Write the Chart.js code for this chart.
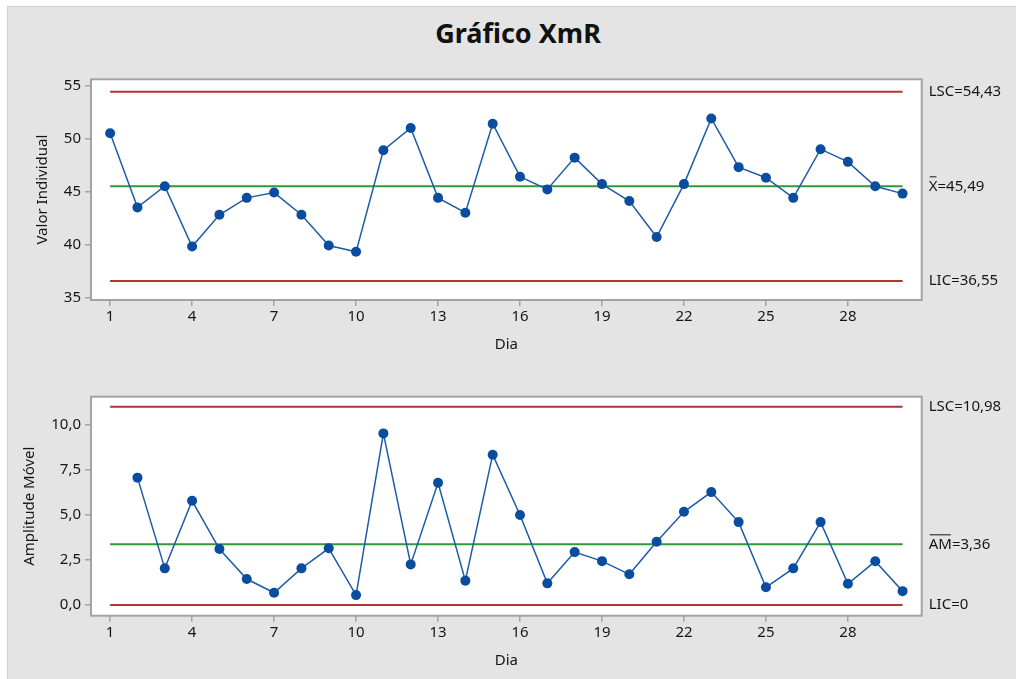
<!DOCTYPE html>
<html>
<head>
<meta charset="utf-8">
<script src="https://cdn.jsdelivr.net/npm/chart.js@4.4.1/dist/chart.umd.min.js"></script>
<style>
    html, body { margin: 0; padding: 0; background: #fff; width: 1016px; height: 679px; overflow: hidden; }
    #panel { position: absolute; left: 7px; top: 6px; width: 1009px; height: 673px; background: #e4e4e4;
             border-left: 1px solid #cfcfcf; border-top: 1px solid #cfcfcf; box-sizing: border-box; }
    #title { position: absolute; left: 10px; top: 19px; width: 1016px; text-align: center;
             font: bold 27px/27px "Noto Sans", sans-serif; color: #111; }
    .box { position: absolute; left: 0; width: 1016px; }
    #topBox { top: 0; height: 354px; }
    #botBox { top: 360px; height: 319px; }
</style>
</head>
<body>
<div id="panel"></div>
<div id="title">Gráfico XmR</div>
<div class="box" id="topBox"><canvas id="chartX"></canvas></div>
<div class="box" id="botBox"><canvas id="chartMR"></canvas></div>

<script>
// ================= DATA =================
const days = [1, 2, 3, 4, 5, 6, 7, 8, 9, 10, 11, 12, 13, 14, 15, 16, 17, 18, 19, 20, 21, 22, 23, 24, 25, 26, 27, 28, 29, 30];

const individualValues = [50.5, 43.5, 45.5, 39.8, 42.8, 44.4, 44.9, 42.8, 39.9, 39.3,
                          48.9, 51.0, 44.4, 43.0, 51.4, 46.4, 45.2, 48.2, 45.7, 44.1,
                          40.7, 45.7, 51.9, 47.3, 46.3, 44.4, 49.0, 47.8, 45.5, 44.8];

const movingRange = [null, 7.05, 2.03, 5.77, 3.10, 1.44, 0.68, 2.03, 3.14, 0.55,
                     9.50, 2.25, 6.77, 1.35, 8.32, 4.98, 1.20, 2.93, 2.43, 1.70,
                     3.50, 5.16, 6.25, 4.59, 0.98, 2.03, 4.59, 1.18, 2.42, 0.77];

// control limits: [upper, center, lower]
const limitsX = [54.43, 45.49, 36.55];
const limitsMR = [10.98, 3.36, 0];
const limitLabelsX = [['', 'LSC=54,43'], ['X', '=45,49'], ['', 'LIC=36,55']];
const limitLabelsMR = [['', 'LSC=10,98'], ['AM', '=3,36'], ['', 'LIC=0']];

// tick labels
const xTicks = [1, 4, 7, 10, 13, 16, 19, 22, 25, 28];
const yTicksX = [35, 40, 45, 50, 55];
const yTicksMR = [0, 2.5, 5, 7.5, 10];

const COLORS = {
    series: '#1d5ca8',
    point: '#0a4d9e',
    limit: '#b03434',
    center: '#2f9a3c',
    frame: '#a3a3a3',
    text: '#161616'
};
const FONT = '"Noto Sans", sans-serif';

// ================= PLUGIN =================
// white plot area, grey frame and the limit labels on the right
const framePlugin = {
    id: 'frame',
    beforeDraw(chart) {
        const a = chart.chartArea;
        const ctx = chart.ctx;
        ctx.save();
        ctx.fillStyle = '#fff';
        ctx.fillRect(a.left, a.top, a.right - a.left, a.bottom - a.top);
        ctx.restore();
    },
    afterDraw(chart, args, opts) {
        const a = chart.chartArea;
        const ctx = chart.ctx;
        ctx.save();
        ctx.strokeStyle = COLORS.frame;
        ctx.lineWidth = 2;
        ctx.strokeRect(a.left, a.top, a.right - a.left, a.bottom - a.top);

        ctx.font = '15px ' + FONT;
        ctx.fillStyle = COLORS.text;
        ctx.textBaseline = 'middle';
        const yScale = chart.scales.y;
        opts.values.forEach((v, i) => {
            const [bar, rest] = opts.labels[i];
            const y = yScale.getPixelForValue(v);
            let x = a.right + 7;
            if (bar) {
                ctx.fillText(bar, x, y);
                const w = ctx.measureText(bar).width;
                ctx.strokeStyle = COLORS.text;
                ctx.lineWidth = 1;
                ctx.beginPath();
                ctx.moveTo(x + 1, y - 9.5);
                ctx.lineTo(x + w - 1, y - 9.5);
                ctx.stroke();
                x += w;
            }
            ctx.fillText(rest, x, y);
        });
        ctx.restore();
    }
};

// ================= CHARTS =================
function limitLine(value, color) {
    return {
        data: [{ x: days[0], y: value }, { x: days[days.length - 1], y: value }],
        borderColor: color,
        borderWidth: 2,
        pointRadius: 0,
        fill: false
    };
}

function buildChart(canvasId, values, limits, labels, yTicks, yMin, yMax, yTitle, yTitlePad, fmt, padTop, padBottom) {
    const ctx = document.getElementById(canvasId).getContext('2d');
    const series = [];
    days.forEach((d, i) => {
        if (values[i] !== null) series.push({ x: d, y: values[i] });
    });

    return new Chart(ctx, {
        type: 'line',
        data: {
            datasets: [{
                data: series,
                borderColor: COLORS.series,
                borderWidth: 1.5,
                pointRadius: 5,
                pointBackgroundColor: COLORS.point,
                pointBorderColor: COLORS.point,
                pointBorderWidth: 0,
                fill: false,
                tension: 0
            },
            limitLine(limits[0], COLORS.limit),
            limitLine(limits[1], COLORS.center),
            limitLine(limits[2], COLORS.limit)]
        },
        options: {
            responsive: true,
            maintainAspectRatio: false,
            animation: false,
            events: [],
            layout: { padding: { left: 0, right: 94.3, top: padTop, bottom: padBottom } },
            plugins: {
                legend: { display: false },
                tooltip: { enabled: false },
                frame: { values: limits, labels: labels }
            },
            scales: {
                x: {
                    type: 'linear',
                    min: 0.3,
                    max: 30.7,
                    afterBuildTicks: (scale) => { scale.ticks = xTicks.map(v => ({ value: v })); },
                    afterFit: (scale) => { scale.height = 54; },
                    grid: { drawOnChartArea: false, drawTicks: true, tickLength: 6, color: COLORS.frame, lineWidth: 1.5 },
                    border: { display: false },
                    ticks: { color: COLORS.text, font: { family: FONT, size: 15 }, padding: 2, maxRotation: 0 },
                    title: { display: true, text: 'Dia', color: COLORS.text, font: { family: FONT, size: 15 }, padding: { top: 0, bottom: 0 } }
                },
                y: {
                    min: yMin,
                    max: yMax,
                    afterBuildTicks: (scale) => { scale.ticks = yTicks.map(v => ({ value: v })); },
                    afterFit: (scale) => { scale.width = 91; },
                    grid: { drawOnChartArea: false, drawTicks: true, tickLength: 6, color: COLORS.frame, lineWidth: 1.5 },
                    border: { display: false },
                    ticks: { color: COLORS.text, font: { family: FONT, size: 15 }, padding: 4, callback: fmt },
                    title: { display: true, text: yTitle, color: COLORS.text, font: { family: FONT, size: 15 }, padding: { top: yTitlePad, bottom: 0 } }
                }
            }
        },
        plugins: [framePlugin]
    });
}

function init() {
    buildChart('chartX', individualValues, limitsX, limitLabelsX, yTicksX, 34.75, 55.6,
        'Valor Individual', 34, v => String(v), 79.3, 0);
    buildChart('chartMR', movingRange, limitsMR, limitLabelsMR, yTicksMR, -0.59, 11.53,
        'Amplitude Móvel', 21, v => v.toFixed(1).replace('.', ','), 36.7, 9.3);
}

window.addEventListener('DOMContentLoaded', init);
</script>
</body>
</html>
